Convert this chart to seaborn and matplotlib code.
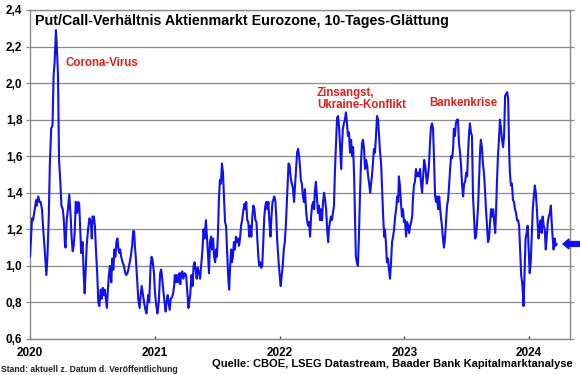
import matplotlib
matplotlib.use("Agg")
import matplotlib.pyplot as plt
from matplotlib.ticker import MultipleLocator, FuncFormatter
import pandas as pd
import seaborn as sns

# ---- data: days since 2020-01-01 and 10-day smoothed put/call ratio ----
days_2020a = [0, 6, 9, 14, 18, 20, 24, 28, 31, 35, 38, 43, 48, 51, 55, 58, 62, 66, 69, 72, 76, 79, 82, 85, 89, 92, 96, 99, 102, 104, 107, 111, 115, 119, 122, 125, 128, 131, 134, 138, 141, 144, 147, 150, 154, 157, 160, 163, 166, 170, 174, 178, 181, 183]
ratio_2020a = [1.05, 1.26, 1.25, 1.31, 1.36, 1.33, 1.38, 1.35, 1.35, 1.31, 1.22, 1.09, 0.95, 1.05, 1.27, 1.55, 1.75, 1.77, 2.04, 2.11, 2.29, 2.18, 2.04, 1.58, 1.45, 1.33, 1.31, 1.25, 1.13, 1.10, 1.24, 1.31, 1.39, 1.27, 1.15, 1.08, 1.11, 1.19, 1.35, 1.29, 1.35, 1.34, 1.20, 1.07, 1.13, 0.96, 0.85, 0.98, 1.11, 1.20, 1.26, 1.24, 1.15, 1.27]

days_2020b = [187, 190, 193, 197, 200, 203, 207, 210, 213, 216, 219, 223, 225, 228, 231, 234, 238, 241, 244, 247, 250, 253, 256, 259, 262, 264, 267, 271, 275, 279, 282, 285, 288, 292, 295, 299, 302, 305, 307, 310, 314, 317, 321, 324, 327, 330, 334, 338, 341, 344, 346, 349, 353, 356, 359, 363, 366, 370, 373, 377]
ratio_2020b = [1.27, 1.22, 1.09, 0.95, 0.80, 0.78, 0.87, 0.82, 0.88, 0.84, 0.87, 0.80, 0.77, 0.87, 0.95, 1.00, 0.91, 1.04, 0.98, 1.09, 1.05, 1.13, 1.15, 1.09, 1.07, 1.09, 1.05, 1.02, 1.00, 0.96, 0.95, 0.96, 0.98, 1.02, 1.05, 1.11, 1.19, 1.19, 1.11, 1.04, 0.91, 0.82, 0.77, 0.84, 0.89, 0.85, 0.80, 0.76, 0.74, 0.80, 0.84, 0.80, 1.00, 1.05, 1.03, 0.96, 0.85, 0.78, 0.74, 0.80]

days_2021a = [381, 384, 386, 390, 393, 397, 400, 403, 406, 409, 412, 416, 419, 422, 424, 427, 430, 434, 437, 440, 443, 446, 449, 453, 457, 461, 464, 466, 469, 473, 476, 479, 482, 485, 488, 491, 495, 498, 502, 505, 508, 511, 515, 518, 521, 524, 527, 530, 533, 536, 539, 542, 545, 547, 550, 553, 556, 559, 562, 565, 568, 571]
ratio_2021a = [0.96, 0.98, 0.95, 0.87, 0.82, 0.75, 0.80, 0.84, 0.80, 0.76, 0.82, 0.83, 0.85, 0.89, 0.95, 0.91, 0.95, 0.91, 0.96, 0.90, 0.96, 0.97, 0.93, 0.96, 0.95, 0.85, 0.77, 0.80, 0.84, 0.95, 0.89, 1.00, 1.02, 0.98, 0.93, 0.99, 0.96, 0.93, 1.02, 1.09, 1.20, 1.15, 1.25, 1.16, 1.07, 0.96, 1.13, 1.16, 1.09, 1.15, 1.05, 1.02, 1.09, 1.05, 1.16, 1.36, 1.47, 1.45, 1.56, 1.51, 1.38, 1.24]

days_2021b = [574, 577, 580, 583, 586, 589, 591, 594, 597, 600, 603, 606, 609, 612, 615, 618, 621, 625, 628, 631, 633, 636, 639, 642, 645, 648, 651, 654, 657, 660, 663, 666, 669, 671, 674, 677, 680, 683, 686, 689, 692, 695, 698, 701, 704, 707, 710, 712, 715, 718, 721, 724, 728, 731, 734, 737, 740, 743, 746, 749, 752, 754, 757, 760, 763, 766]
ratio_2021b = [1.22, 1.09, 0.95, 0.87, 1.00, 1.09, 1.02, 1.05, 1.13, 1.09, 1.16, 1.13, 1.15, 1.11, 1.15, 1.22, 1.25, 1.31, 1.34, 1.31, 1.35, 1.25, 1.24, 1.16, 1.22, 1.16, 1.27, 1.33, 1.31, 1.25, 1.24, 1.13, 1.04, 1.00, 1.02, 0.99, 1.00, 1.13, 1.27, 1.33, 1.35, 1.31, 1.35, 1.24, 1.16, 1.27, 1.35, 1.36, 1.38, 1.36, 1.27, 1.13, 1.02, 0.95, 0.89, 0.95, 1.00, 1.09, 1.13, 1.22, 1.35, 1.44, 1.56, 1.55, 1.49, 1.45]

days_2022a = [767, 770, 773, 776, 779, 782, 785, 788, 791, 793, 796, 799, 802, 805, 808, 811, 814, 817, 820, 823, 826, 829, 832, 834, 837, 840, 843, 846, 849, 852, 855, 858, 861, 864, 867, 870, 873, 875, 878, 881, 884, 887, 890, 893, 896, 899, 902, 905, 908, 911, 913, 916, 919, 922, 925, 928, 931, 934, 937, 940, 943, 946, 949, 952, 954, 957]
ratio_2022a = [1.45, 1.42, 1.35, 1.44, 1.53, 1.62, 1.64, 1.60, 1.53, 1.47, 1.45, 1.38, 1.35, 1.42, 1.31, 1.25, 1.22, 1.24, 1.16, 1.27, 1.33, 1.35, 1.31, 1.41, 1.46, 1.38, 1.29, 1.33, 1.25, 1.31, 1.25, 1.35, 1.40, 1.36, 1.31, 1.20, 1.13, 1.20, 1.24, 1.27, 1.25, 1.29, 1.33, 1.53, 1.67, 1.81, 1.82, 1.76, 1.64, 1.53, 1.64, 1.75, 1.78, 1.80, 1.84, 1.78, 1.71, 1.73, 1.62, 1.69, 1.60, 1.65, 1.49, 1.22, 1.05, 1.02]

days_2022b = [960, 963, 966, 969, 972, 975, 978, 981, 984, 987, 990, 993, 996, 998, 1001, 1004, 1007, 1010, 1013, 1016, 1019, 1022, 1025, 1028, 1031, 1034, 1037, 1039, 1042, 1045, 1048, 1051, 1054, 1057, 1060, 1063, 1066, 1069, 1072, 1075, 1078, 1080, 1083, 1086, 1089, 1092, 1095, 1098, 1101, 1104, 1107, 1110, 1113, 1116, 1119, 1121, 1124, 1127, 1130, 1133, 1136, 1139, 1142, 1145, 1148, 1151]
ratio_2022b = [1.00, 1.16, 1.38, 1.56, 1.67, 1.69, 1.64, 1.53, 1.58, 1.55, 1.49, 1.45, 1.40, 1.44, 1.49, 1.56, 1.64, 1.62, 1.71, 1.82, 1.80, 1.71, 1.62, 1.56, 1.42, 1.27, 1.16, 1.20, 1.13, 1.02, 1.04, 0.98, 0.93, 1.02, 1.13, 1.16, 1.20, 1.27, 1.31, 1.38, 1.35, 1.49, 1.44, 1.35, 1.27, 1.31, 1.24, 1.25, 1.16, 1.24, 1.22, 1.18, 1.22, 1.24, 1.27, 1.36, 1.44, 1.46, 1.53, 1.49, 1.51, 1.49, 1.53, 1.45, 1.40, 1.49]

days_2023a = [1154, 1157, 1159, 1162, 1165, 1168, 1171, 1174, 1177, 1180, 1183, 1186, 1189, 1192, 1195, 1198, 1200, 1203, 1206, 1209, 1212, 1215, 1218, 1221, 1224, 1227, 1230, 1233, 1236, 1239, 1241, 1244, 1247, 1250, 1253, 1256, 1259, 1262, 1265, 1268, 1271, 1274, 1277, 1280, 1282, 1285, 1288, 1291, 1294, 1297, 1300, 1303, 1306, 1309, 1312, 1315, 1318, 1320, 1323, 1326, 1329, 1332, 1335, 1338, 1341, 1344]
ratio_2023a = [1.58, 1.55, 1.51, 1.45, 1.49, 1.55, 1.67, 1.76, 1.78, 1.75, 1.58, 1.38, 1.35, 1.38, 1.31, 1.38, 1.33, 1.27, 1.22, 1.15, 1.10, 1.15, 1.24, 1.33, 1.36, 1.44, 1.53, 1.60, 1.59, 1.65, 1.75, 1.71, 1.78, 1.80, 1.80, 1.67, 1.62, 1.55, 1.44, 1.38, 1.45, 1.46, 1.51, 1.49, 1.60, 1.71, 1.78, 1.73, 1.71, 1.38, 1.27, 1.15, 1.16, 1.24, 1.33, 1.49, 1.64, 1.69, 1.65, 1.56, 1.51, 1.42, 1.31, 1.22, 1.13, 1.15]

days_2023b = [1347, 1350, 1353, 1356, 1359, 1362, 1364, 1367, 1370, 1373, 1376, 1379, 1382, 1385, 1388, 1391, 1394, 1397, 1400, 1403, 1405, 1408, 1411, 1414, 1417, 1420, 1423, 1426, 1429, 1432, 1435, 1438, 1441, 1444, 1445, 1448, 1451, 1454, 1457, 1460, 1463, 1466, 1469, 1472, 1475, 1478, 1481, 1484, 1486, 1489, 1492, 1495, 1498, 1501, 1504, 1507, 1510, 1513, 1516, 1519, 1522, 1525, 1527, 1530, 1533, 1536, 1539, 1542]
ratio_2023b = [1.24, 1.31, 1.27, 1.31, 1.24, 1.18, 1.27, 1.45, 1.60, 1.69, 1.80, 1.75, 1.69, 1.65, 1.71, 1.93, 1.94, 1.95, 1.91, 1.62, 1.51, 1.44, 1.45, 1.36, 1.35, 1.31, 1.29, 1.25, 1.25, 1.22, 1.09, 0.95, 0.91, 0.82, 0.78, 0.96, 1.15, 1.18, 1.22, 1.09, 0.96, 1.02, 1.16, 1.31, 1.38, 1.44, 1.40, 1.31, 1.24, 1.15, 1.22, 1.25, 1.18, 1.27, 1.22, 1.20, 1.09, 1.16, 1.24, 1.27, 1.29, 1.33, 1.25, 1.16, 1.09, 1.15, 1.11, 1.12]

year_ticks = ["2020", "2021", "2022", "2023", "2024"]
title = "Put/Call-Verhältnis Aktienmarkt Eurozone, 10-Tages-Glättung"
events = ["Corona-Virus", "Zinsangst,\nUkraine-Konflikt", "Bankenkrise"]
source = "Quelle: CBOE, LSEG Datastream, Baader Bank Kapitalmarktanalyse"
note = "Stand: aktuell z. Datum d. Veröffentlichung"

days = (days_2020a + days_2020b + days_2021a + days_2021b + days_2022a
        + days_2022b + days_2023a + days_2023b)
ratio = (ratio_2020a + ratio_2020b + ratio_2021a + ratio_2021b + ratio_2022a
         + ratio_2022b + ratio_2023a + ratio_2023b)
assert len(days) == len(ratio), (len(days), len(ratio))

df = pd.DataFrame({
    "Datum": pd.Timestamp("2020-01-01") + pd.to_timedelta(days, unit="D"),
    "PutCall": ratio,
})

sns.set_theme(style="white")
plt.rcParams["font.family"] = ["Liberation Sans", "DejaVu Sans"]
plt.rcParams["font.weight"] = "bold"

BLUE = "#1010f0"
RED = "#e0201c"
GRID = "#8a8a8a"

W, H = 580, 375
fig = plt.figure(figsize=(W / 100, H / 100), dpi=100)
fig.patch.set_facecolor("white")
ax = fig.add_axes([30 / W, 1 - 339 / H, 540 / W, 329 / H])
ax.set_facecolor("white")

sns.lineplot(data=df, x="Datum", y="PutCall", ax=ax, color=BLUE,
             linewidth=1.5, zorder=3)

ax.set_ylim(0.6, 2.4)
ax.set_xlim(pd.Timestamp("2020-01-01"), pd.Timestamp("2024-04-30"))
ax.yaxis.set_major_locator(MultipleLocator(0.2))
ax.yaxis.set_major_formatter(FuncFormatter(lambda v, p: f"{v:.1f}".replace(".", ",")))
ax.set_xticks([pd.Timestamp(f"{y}-01-01") for y in year_ticks])
ax.set_xticklabels(year_ticks)
ax.set_xlabel("")
ax.set_ylabel("")
ax.grid(axis="y", color=GRID, linewidth=0.9, zorder=1)
ax.grid(axis="x", visible=False)
for s in ax.spines.values():
    s.set_color(GRID)
    s.set_linewidth(1.0)

ax.tick_params(axis="y", left=True, right=True, labelright=False, length=3,
               direction="out", color=GRID, width=0.9, labelsize=8.5, pad=2.5,
               labelcolor="black")
ax.tick_params(axis="x", bottom=True, length=2.5, direction="in", color="#404040",
               width=0.9, labelsize=8.5, pad=5.5, labelcolor="black")

fig.text(35 / W, 1 - 21 / H, title, fontsize=10.3, fontweight="bold",
         ha="left", va="center", color="black")
fig.text(65 / W, 1 - 63 / H, events[0], fontsize=8.3, color=RED,
         ha="left", va="center", fontweight="bold")
fig.text(317 / W, 1 - 99 / H, events[1], fontsize=8.3, color=RED,
         ha="left", va="center", fontweight="bold", linespacing=1.05)
fig.text(429 / W, 1 - 103 / H, events[2], fontsize=8.3, color=RED,
         ha="left", va="center", fontweight="bold")

fig.text(573 / W, 1 - 364 / H, source, fontsize=8.0, ha="right", va="center",
         color="black", fontweight="bold")
fig.text(1 / W, 1 - 369 / H, note, fontsize=6.2, ha="left", va="center",
         color="#222222", fontweight="bold")

ax.annotate("", xy=(0.987, ratio[-1]), xytext=(1.018, ratio[-1]),
            xycoords=("axes fraction", "data"), textcoords=("axes fraction", "data"),
            arrowprops=dict(arrowstyle="simple,head_length=0.6,head_width=1.0,tail_width=0.5",
                            color=BLUE, shrinkA=0, shrinkB=0, mutation_scale=7),
            annotation_clip=False)

fig.savefig("out.png", dpi=100, facecolor="white")
